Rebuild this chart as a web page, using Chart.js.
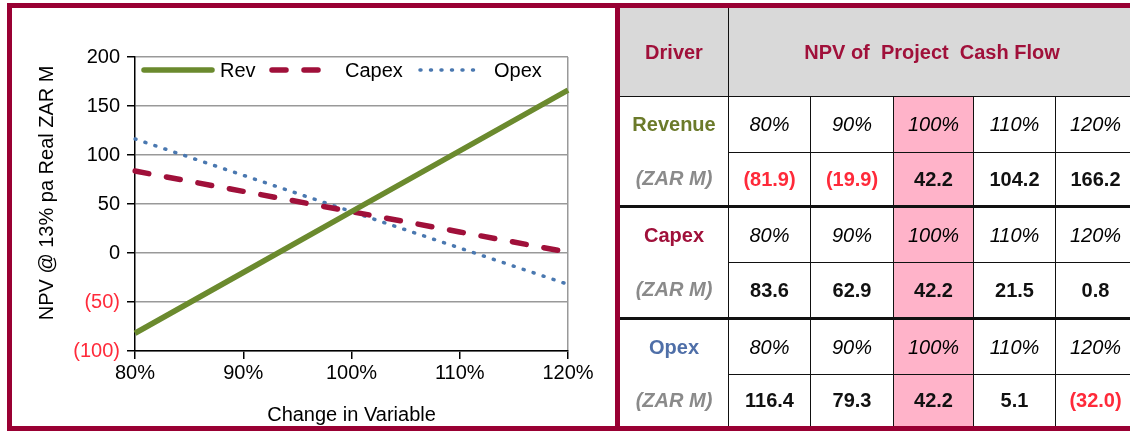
<!DOCTYPE html>
<html>
<head>
  <title>NPV Sensitivity</title>
  <script src="https://cdn.jsdelivr.net/npm/chart.js"></script>
  <style>
    body { margin: 0; width: 1130px; height: 431px; overflow: hidden; background: #fff; font-family: "Liberation Sans", Arial, sans-serif; position: relative; }
    #panel { position: absolute; left: 7px; top: 3px; width: 603px; height: 418px; border: 5px solid #990033; }
    #chart { position: absolute; left: 0; top: 0; }
    #tbl { position: absolute; left: 615px; top: 3px; width: 518px; border-collapse: collapse; table-layout: fixed; border-top: 5px solid #990033; border-bottom: 5px solid #990033; border-left: 5px solid #990033; }
    #tbl td { border: 1.5px solid #111; text-align: center; font-size: 20px; font-weight: bold; padding: 0; color: #111; }
    #tbl td.head { background: #d9d9d9; color: #a0103a; font-size: 20px; }
    #tbl td.drv { border-top: none; border-bottom: none; font-size: 20px; }
    #tbl td.unit { color: #8a8a8a; font-style: italic; border-top: none; }
    #tbl td.pct { font-style: italic; font-weight: normal; color: #000; font-size: 20px; }
    #tbl td.base { background: #ffb3c9; }
    #tbl td.neg { color: #ff2a3a; }
    #tbl tr.grp td { border-top: 3px solid #111; }
  </style>
</head>
<body>
  <div id="panel"></div>
  <canvas id="chart" width="620" height="431"></canvas>
  <table id="tbl"></table>
  <script>
    const changeLabels = ['80%', '90%', '100%', '110%', '120%'];
    const revenue = [-81.9, -19.9, 42.2, 104.2, 166.2];
    const capex = [83.6, 62.9, 42.2, 21.5, 0.8];
    const opex = [116.4, 79.3, 42.2, 5.1, -32.0];
    const yTicks = [-100, -50, 0, 50, 100, 150, 200];

    const drivers = [
      { name: 'Revenue', color: '#6b7a2a', values: revenue },
      { name: 'Capex', color: '#a0103a', values: capex },
      { name: 'Opex', color: '#4f6fa8', values: opex }
    ];

    // table
    function fmt(v) {
      return v < 0 ? '(' + Math.abs(v).toFixed(1) + ')' : v.toFixed(1);
    }
    const tbl = document.getElementById('tbl');
    const rowH = [56, 54, 56, 56, 56, 54];
    let html = '<colgroup><col style="width:111px"><col style="width:82px"><col style="width:83px"><col style="width:80px"><col style="width:82px"><col style="width:80px"></colgroup>';
    html += '<tr style="height:91px"><td class="head">Driver</td><td class="head" colspan="5">NPV of&nbsp; Project&nbsp; Cash Flow</td></tr>';
    drivers.forEach((d, i) => {
      html += '<tr class="' + (i > 0 ? 'grp' : '') + '" style="height:' + rowH[i * 2] + 'px"><td class="drv" style="color:' + d.color + '">' + d.name + '</td>';
      changeLabels.forEach((l, j) => {
        html += '<td class="pct' + (j === 2 ? ' base' : '') + '">' + l + '</td>';
      });
      html += '</tr><tr style="height:' + rowH[i * 2 + 1] + 'px"><td class="drv unit">(ZAR M)</td>';
      d.values.forEach((v, j) => {
        html += '<td class="' + (j === 2 ? 'base ' : '') + (v < 0 ? 'neg' : '') + '">' + fmt(v) + '</td>';
      });
      html += '</tr>';
    });
    tbl.innerHTML = html;

    // legend drawn inside the plot
    const legendPlugin = {
      id: 'innerLegend',
      afterDraw(chart) {
        const ctx = chart.ctx;
        const y = 70;
        const items = [
          { x: 144, len: 68, label: 'Rev', ds: chart.data.datasets[0] },
          { x: 272, len: 62, label: 'Capex', ds: chart.data.datasets[1] },
          { x: 420, len: 62, label: 'Opex', ds: chart.data.datasets[2] }
        ];
        ctx.save();
        ctx.font = '20px "Liberation Sans", Arial, sans-serif';
        ctx.textBaseline = 'middle';
        items.forEach(it => {
          ctx.strokeStyle = it.ds.borderColor;
          ctx.lineWidth = it.ds.borderWidth;
          ctx.lineCap = 'round';
          ctx.setLineDash(it.ds.borderDash || []);
          ctx.beginPath();
          ctx.moveTo(it.x, y);
          ctx.lineTo(it.x + it.len, y);
          ctx.stroke();
          ctx.setLineDash([]);
          ctx.fillStyle = '#000';
          ctx.fillText(it.label, it.x + it.len + (it.label === 'Opex' ? 12 : (it.label === 'Capex' ? 11 : 8)), y + 1);
        });
        ctx.restore();
      }
    };

    const axisFont = { size: 20, family: '"Liberation Sans", Arial' };

    new Chart(document.getElementById('chart'), {
      type: 'line',
      data: {
        labels: changeLabels,
        datasets: [
          { label: 'Rev', data: revenue, borderColor: '#6b8a2e', borderWidth: 5.5, pointRadius: 0 },
          { label: 'Capex', data: capex, borderColor: '#a0103a', borderWidth: 5.5, borderDash: [14, 18], borderCapStyle: 'round', pointRadius: 0 },
          { label: 'Opex', data: opex, borderColor: '#4a78b0', borderWidth: 3.5, borderDash: [1, 9.5], borderCapStyle: 'round', pointRadius: 0 }
        ]
      },
      options: {
        responsive: false,
        animation: false,
        layout: { padding: { left: 35, right: 52, top: 57, bottom: 4 } },
        plugins: { legend: { display: false }, tooltip: { enabled: false } },
        scales: {
          x: {
            offset: false,
            afterFit(s) { s.height = 76; },
            grid: {
              drawOnChartArea: true,
              color: c => c.index === changeLabels.length - 1 ? '#999' : 'rgba(0,0,0,0)',
              tickColor: '#000',
              tickLength: 8,
              lineWidth: 1.5
            },
            border: { color: '#000', width: 1.5 },
            ticks: { color: '#000', font: axisFont, maxRotation: 0, padding: 2 },
            title: { display: true, text: 'Change in Variable', color: '#000', font: axisFont, padding: { top: 0, bottom: 0 } }
          },
          y: {
            min: yTicks[0],
            max: yTicks[yTicks.length - 1],
            afterFit(s) { s.width = 100; },
            afterBuildTicks(s) { s.ticks = yTicks.map(v => ({ value: v })); },
            grid: { color: '#999', tickColor: '#000', tickLength: 8, lineWidth: 1.5 },
            border: { color: '#000', width: 1.5 },
            ticks: {
              font: axisFont,
              color: c => c.tick && c.tick.value < 0 ? '#ff2a3a' : '#000',
              callback: v => v < 0 ? '(' + Math.abs(v) + ')' : v,
              padding: 7
            },
            title: { display: true, text: '\u00a0\u00a0\u00a0\u00a0NPV @ 13% pa Real ZAR M', color: '#000', font: axisFont, padding: { top: 0, bottom: 0 } }
          }
        }
      },
      plugins: [legendPlugin]
    });
  </script>
</body>
</html>
